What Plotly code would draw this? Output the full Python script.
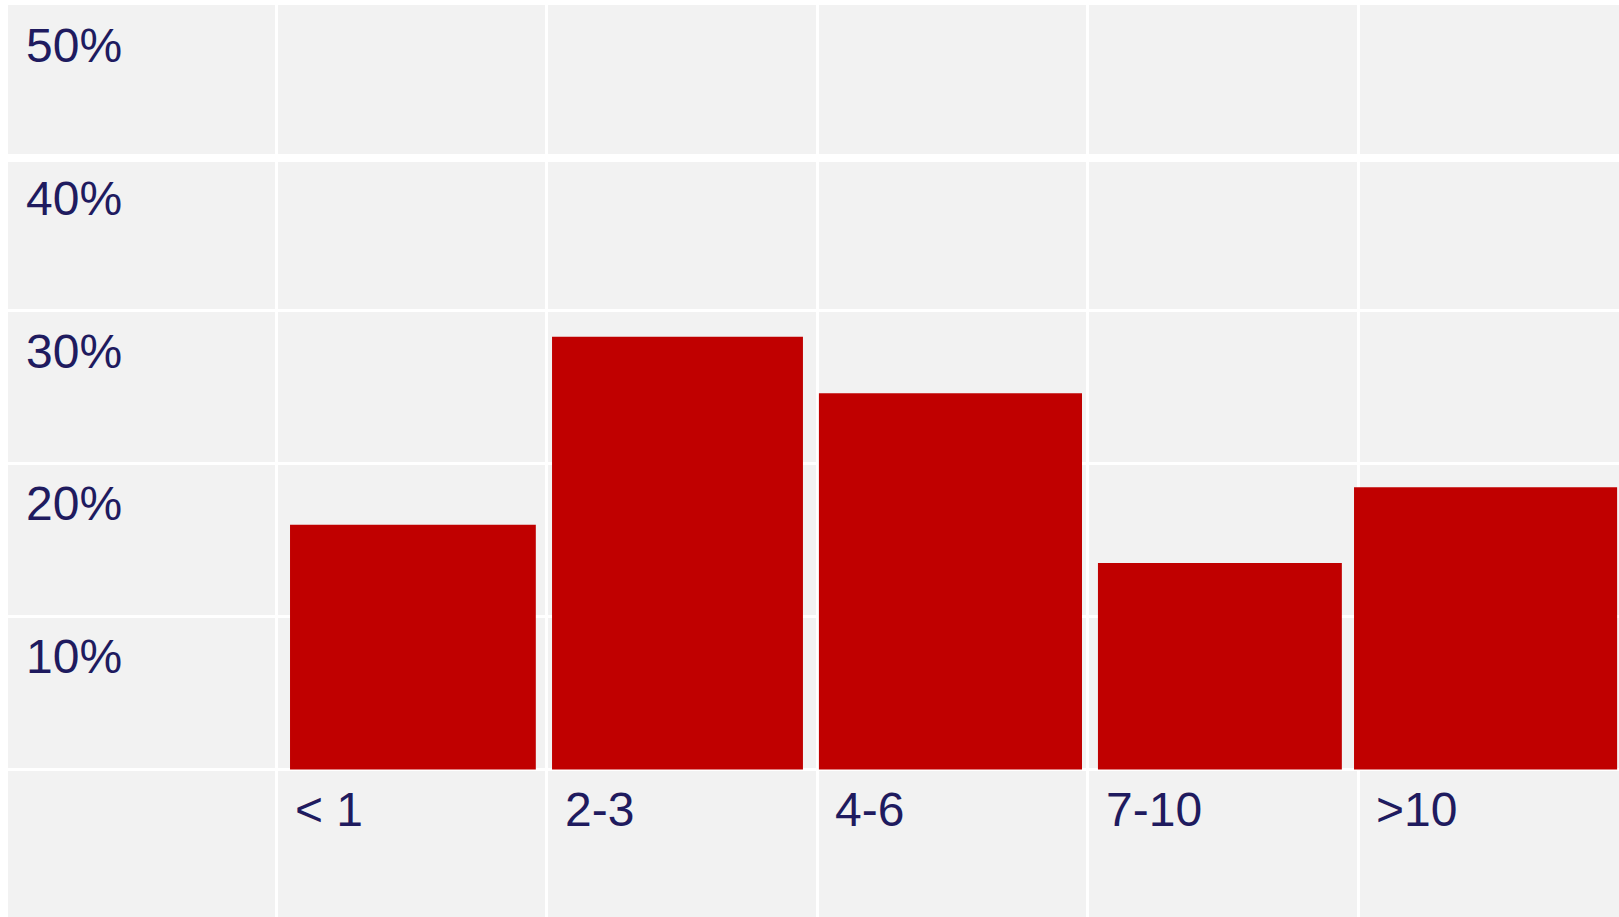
import plotly.graph_objects as go

# Data
categories = ["< 1", "2-3", "4-6", "7-10", ">10"]
shares = [16.0, 28.3, 24.6, 13.5, 18.45]  # percent
y_ticks = [0, 10, 20, 30, 40, 50]
y_tick_labels = ["", "10%", "20%", "30%", "40%", "50%"]

# Styling (bar geometry within each category slot)
bar_widths = [0.909, 0.928, 0.973, 0.902, 0.973]
bar_offsets = [-0.45, -0.481, -0.494, -0.462, -0.515]

TEXT = "#1f1b5f"
BAR = "#c00000"
BG = "#f2f2f2"
FONT = "Liberation Sans, Arial, sans-serif"

fig = go.Figure()
fig.add_trace(go.Bar(
    x=categories,
    y=shares,
    width=bar_widths,
    offset=bar_offsets,
    marker=dict(color=BAR, line=dict(width=0)),
    hoverinfo="skip",
))

for c in categories:
    fig.add_annotation(
        x=c, y=0, xref="x", yref="y",
        text=c, showarrow=False,
        xanchor="left", yanchor="middle",
        xshift=-119, yshift=-40,
        font=dict(family=FONT, size=48, color=TEXT),
    )

# thicker white rule at 40%
fig.add_shape(type="line", xref="paper", yref="y", x0=0, x1=1, y0=40, y1=40,
              line=dict(color="white", width=8), layer="below")

fig.update_layout(
    width=1619, height=917,
    margin=dict(l=8, r=0, t=5, b=0),
    paper_bgcolor="white",
    plot_bgcolor=BG,
    showlegend=False,
    font=dict(family=FONT, color=TEXT),
    xaxis=dict(
        type="category",
        categoryorder="array", categoryarray=categories,
        range=[-1.493, 4.465],
        tickson="boundaries",
        showgrid=True, gridcolor="white", gridwidth=3,
        showticklabels=False, ticks="",
        zeroline=False, showline=False,
        automargin=False, fixedrange=True,
    ),
    yaxis=dict(
        range=[-9.65, 50],
        tickvals=y_ticks, ticktext=y_tick_labels,
        showgrid=True, gridcolor="white", gridwidth=3,
        zeroline=False, showline=False, ticks="",
        ticklabelposition="inside",
        ticklabelstandoff=15,
        ticklabelshift=40,
        ticklabeloverflow="allow",
        tickfont=dict(family=FONT, size=48, color=TEXT),
        automargin=False, fixedrange=True,
    ),
)

fig.write_html(
    "out.html",
    config={"displayModeBar": False},
    post_script="document.body.style.margin='0';document.body.style.overflow='hidden';",
)
